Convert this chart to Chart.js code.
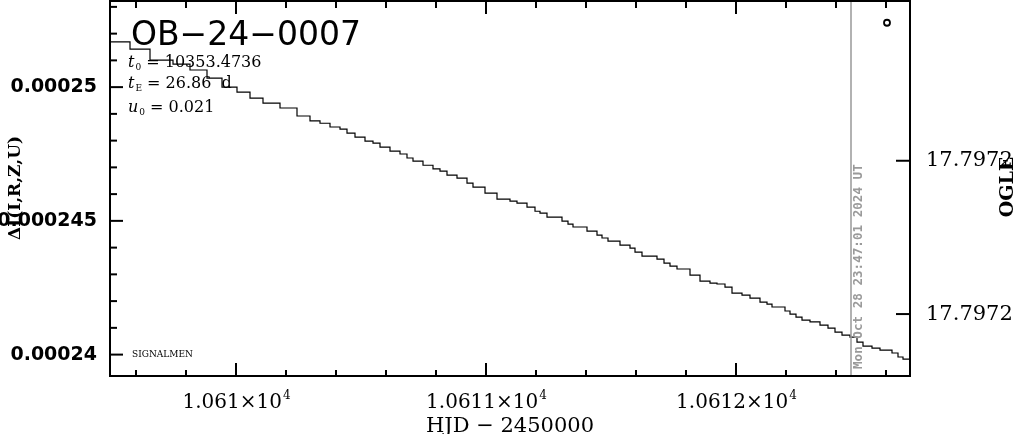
<!DOCTYPE html>
<html lang="en">
<head>
<meta charset="UTF-8">
<title>OB-24-0007</title>
<script src="https://cdn.jsdelivr.net/npm/chart.js@4.4.0/dist/chart.umd.min.js"></script>
<style>
  body { margin: 0; background: #fff; }
  #wrap { width: 1014px; height: 434px; }
</style>
</head>
<body>
<div id="wrap"><canvas id="lc" width="1014" height="434"></canvas></div>
<script>
// light curve (HJD - 2450000 vs dI)
const hjd = [
  10609.496, 10609.576, 10609.656, 10609.748, 10609.816, 10609.884, 10609.944, 10610.004,
  10610.056, 10610.108, 10610.176, 10610.244, 10610.296, 10610.336, 10610.376, 10610.416,
  10610.444, 10610.476, 10610.516, 10610.548, 10610.576, 10610.616, 10610.656, 10610.684,
  10610.708, 10610.748, 10610.788, 10610.816, 10610.844, 10610.884, 10610.924, 10610.948,
  10610.996, 10611.044, 10611.096, 10611.124, 10611.164, 10611.196, 10611.216, 10611.244,
  10611.304, 10611.328, 10611.348, 10611.404, 10611.444, 10611.464, 10611.488, 10611.536,
  10611.576, 10611.596, 10611.624, 10611.684, 10611.712, 10611.736, 10611.764, 10611.816,
  10611.856, 10611.896, 10611.924, 10611.956, 10611.984, 10612.024, 10612.056, 10612.096,
  10612.124, 10612.144, 10612.196, 10612.216, 10612.240, 10612.264, 10612.296, 10612.336,
  10612.368, 10612.396, 10612.424, 10612.456, 10612.484, 10612.508, 10612.544, 10612.576,
  10612.624, 10612.648, 10612.668, 10612.684, 10612.696
];
const dI = [
  0.00025203, 0.00025169, 0.00025142, 0.00025101, 0.00025086, 0.00025064, 0.00025034, 0.00025000,
  0.00024981, 0.00024959, 0.00024940, 0.00024922, 0.00024892, 0.00024874, 0.00024865, 0.00024851,
  0.00024843, 0.00024828, 0.00024813, 0.00024798, 0.00024791, 0.00024776, 0.00024761, 0.00024750,
  0.00024735, 0.00024723, 0.00024708, 0.00024694, 0.00024686, 0.00024671, 0.00024660, 0.00024641,
  0.00024626, 0.00024604, 0.00024581, 0.00024574, 0.00024566, 0.00024551, 0.00024536, 0.00024529,
  0.00024514, 0.00024499, 0.00024488, 0.00024477, 0.00024462, 0.00024447, 0.00024436, 0.00024424,
  0.00024409, 0.00024398, 0.00024383, 0.00024368, 0.00024357, 0.00024342, 0.00024331, 0.00024320,
  0.00024297, 0.00024275, 0.00024267, 0.00024264, 0.00024252, 0.00024230, 0.00024222, 0.00024211,
  0.00024196, 0.00024189, 0.00024178, 0.00024163, 0.00024151, 0.00024140, 0.00024129, 0.00024122,
  0.00024110, 0.00024099, 0.00024084, 0.00024073, 0.00024065, 0.00024047, 0.00024032, 0.00024024,
  0.00024017, 0.00024006, 0.00023991, 0.00023983, 0.00023983
];
const ogleHjd = [10612.604];
const ogleMag = [17.797219];

const xMajor = [10610, 10611, 10612];
const xMajorLabels = ['1.061', '1.0611', '1.0612'];
const xExponent = '4';
const xMinor = [10609.6, 10609.8, 10610.2, 10610.4, 10610.6, 10610.8, 10611.2, 10611.4,
  10611.6, 10611.8, 10612.2, 10612.4, 10612.6];
const yMajor = [0.00024, 0.000245, 0.00025];
const yMajorLabels = ['0.00024', '0.000245', '0.00025'];
const yMinor = [0.000241, 0.000242, 0.000243, 0.000244, 0.000246, 0.000247, 0.000248,
  0.000249, 0.000251, 0.000252, 0.000253];
const y2Major = [17.7972, 17.79721];
const y2Labels = ['17.7972', '17.7972'];

const nowHjd = 10612.46;
const nowText = 'Mon Oct 28 23:47:01 2024 UT';
const eventName = 'OB\u221224\u22120007';
const params = [['t', '0', ' = 10353.4736'], ['t', 'E', ' = 26.86  d'], ['u', '0', ' = 0.021']];

const drawExtras = {
  id: 'drawExtras',
  afterDraw(chart) {
    const { ctx, chartArea: a } = chart;
    const { x, y, y2 } = chart.scales;
    ctx.save();
    ctx.strokeStyle = '#000';
    ctx.fillStyle = '#000';
    ctx.lineWidth = 2;
    const seg = (x1, y1, x2, y2p) => { ctx.beginPath(); ctx.moveTo(x1, y1); ctx.lineTo(x2, y2p); ctx.stroke(); };

    // "now" marker
    const nx = x.getPixelForValue(nowHjd);
    ctx.strokeStyle = '#999';
    ctx.lineWidth = 1.5;
    seg(nx, a.top, nx, a.bottom);
    ctx.save();
    ctx.translate(nx + 8, a.bottom - 7);
    ctx.rotate(-Math.PI / 2);
    ctx.fillStyle = '#9a9a9a';
    ctx.font = 'bold 12.6px "DejaVu Sans Mono"';
    ctx.textAlign = 'left';
    ctx.textBaseline = 'middle';
    ctx.fillText(nowText, 0, 0);
    ctx.restore();

    // frame and inward ticks
    ctx.strokeStyle = '#000';
    ctx.lineWidth = 2;
    ctx.strokeRect(a.left, a.top, a.right - a.left, a.bottom - a.top);
    xMajor.forEach(v => { const p = x.getPixelForValue(v); seg(p, a.bottom, p, a.bottom - 13); seg(p, a.top, p, a.top + 13); });
    xMinor.forEach(v => { const p = x.getPixelForValue(v); seg(p, a.bottom, p, a.bottom - 6); seg(p, a.top, p, a.top + 7); });
    yMajor.forEach(v => { const p = y.getPixelForValue(v); seg(a.left, p, a.left + 13, p); });
    yMinor.forEach(v => { const p = y.getPixelForValue(v); seg(a.left, p, a.left + 7, p); });
    y2Major.forEach(v => { const p = y2.getPixelForValue(v); seg(a.right, p, a.right - 14, p); });

    // tick labels
    ctx.textBaseline = 'middle';
    ctx.font = 'bold 19px "DejaVu Sans"';
    ctx.textAlign = 'right';
    yMajor.forEach((v, i) => ctx.fillText(yMajorLabels[i], a.left - 13, y.getPixelForValue(v)));
    ctx.font = '21px "DejaVu Serif"';
    ctx.textAlign = 'left';
    y2Major.forEach((v, i) => ctx.fillText(y2Labels[i], a.right + 16, y2.getPixelForValue(v)));

    ctx.textBaseline = 'alphabetic';
    xMajor.forEach((v, i) => {
      const p = x.getPixelForValue(v);
      ctx.font = '20px "DejaVu Serif"';
      const main = xMajorLabels[i] + '\u00d710';
      const w1 = ctx.measureText(main).width;
      ctx.font = '12px "DejaVu Serif"';
      const w2 = ctx.measureText(xExponent).width;
      const x0 = p - (w1 + w2) / 2;
      ctx.textAlign = 'left';
      ctx.font = '20px "DejaVu Serif"';
      ctx.fillText(main, x0, a.bottom + 32);
      ctx.font = '12px "DejaVu Serif"';
      ctx.fillText(xExponent, x0 + w1 + 1, a.bottom + 23);
    });

    // axis titles
    ctx.textAlign = 'center';
    ctx.font = '21px "DejaVu Serif"';
    ctx.fillText('HJD \u2212 2450000', (a.left + a.right) / 2, a.bottom + 56);
    ctx.save();
    ctx.translate(16, 188);
    ctx.rotate(-Math.PI / 2);
    ctx.font = 'bold 17px "DejaVu Serif"';
    ctx.textBaseline = 'middle';
    ctx.fillText('\u0394I(I,R,Z,U)', 0, 0);
    ctx.restore();
    ctx.save();
    ctx.translate(1008, 187);
    ctx.rotate(-Math.PI / 2);
    ctx.font = 'bold 19px "DejaVu Serif"';
    ctx.textBaseline = 'middle';
    ctx.fillText('OGLE', 0, 0);
    ctx.restore();

    // event name and parameters
    ctx.textAlign = 'left';
    ctx.font = '33px "DejaVu Sans"';
    ctx.fillText(eventName, a.left + 21, 45);
    const baselines = [67, 88, 112];
    params.forEach((p, i) => {
      let px = a.left + 18;
      const by = baselines[i];
      ctx.font = 'italic 16px "DejaVu Serif"';
      ctx.fillText(p[0], px, by);
      px += ctx.measureText(p[0]).width + 1;
      ctx.font = '9px "DejaVu Serif"';
      ctx.fillText(p[1], px, by + 3);
      px += ctx.measureText(p[1]).width;
      ctx.font = '16px "DejaVu Serif"';
      ctx.fillText(p[2], px, by);
    });
    ctx.font = '9px "DejaVu Serif"';
    ctx.textBaseline = 'middle';
    ctx.fillText('SIGNALMEN', a.left + 22, y.getPixelForValue(0.00024));
    ctx.restore();
  }
};

new Chart(document.getElementById('lc'), {
  type: 'line',
  data: {
    datasets: [{
      label: 'dI',
      data: hjd.map((t, i) => ({ x: t, y: dI[i] })),
      borderColor: '#000',
      borderWidth: 1.2,
      stepped: 'after',
      pointRadius: 0,
      fill: false,
      yAxisID: 'y'
    }, {
      label: 'OGLE',
      data: ogleHjd.map((t, i) => ({ x: t, y: ogleMag[i] })),
      showLine: false,
      pointRadius: 3,
      pointBorderWidth: 1.8,
      pointBorderColor: '#000',
      pointBackgroundColor: 'rgba(0,0,0,0)',
      yAxisID: 'y2'
    }]
  },
  options: {
    responsive: false,
    animation: false,
    layout: { autoPadding: false, padding: { left: 110, right: 104, top: 1, bottom: 58 } },
    scales: {
      x: { type: 'linear', display: false, min: 10609.496, max: 10612.696 },
      y: { type: 'linear', display: false, min: 0.0002392, max: 0.00025322 },
      y2: { type: 'linear', display: false, position: 'right', min: 17.79719596, max: 17.79722042 }
    },
    plugins: { legend: { display: false }, tooltip: { enabled: false } }
  },
  plugins: [drawExtras]
});
</script>
</body>
</html>
